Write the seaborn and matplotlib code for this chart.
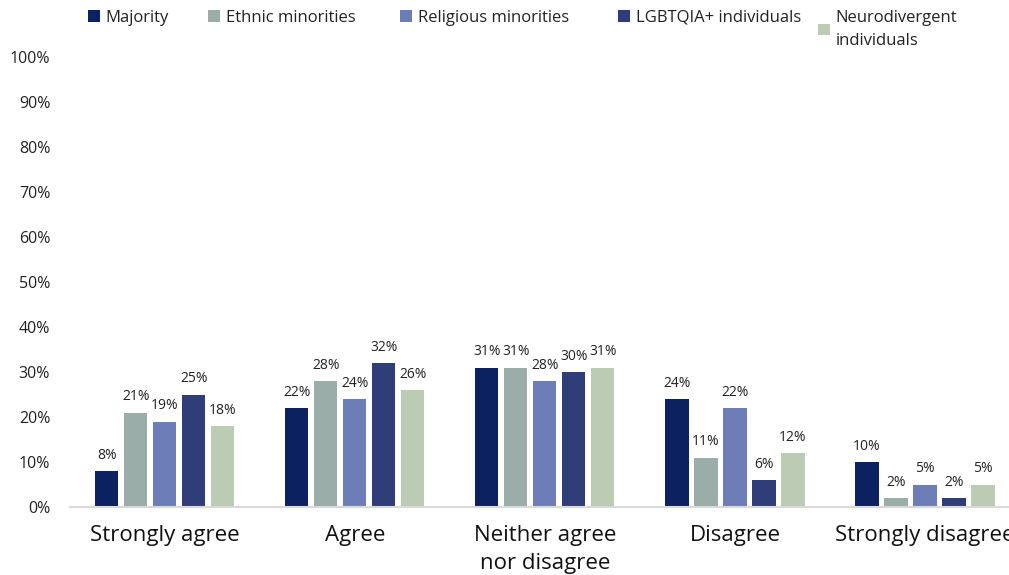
import pandas as pd
import seaborn as sns
import matplotlib.pyplot as plt
from matplotlib.ticker import FuncFormatter

# 数据
categories = ['Strongly agree', 'Agree', 'Neither agree\nnor disagree', 'Disagree', 'Strongly disagree']
groups = ['Majority', 'Ethnic minorities', 'Religious minorities', 'LGBTQIA+ individuals', 'Neurodivergent\nindividuals']
majority = [8, 22, 31, 24, 10]
ethnic = [21, 28, 31, 11, 2]
religious = [19, 24, 28, 22, 5]
lgbtqia = [25, 32, 30, 6, 2]
neuro = [18, 26, 31, 12, 5]
colors = ['#0b2160', '#9aada9', '#6d7db8', '#2f3d78', '#bccbb4']

rows = []
for g, vals in zip(groups, [majority, ethnic, religious, lgbtqia, neuro]):
    for c, v in zip(categories, vals):
        rows.append({'category': c, 'group': g, 'value': v})
df = pd.DataFrame(rows)

sns.set_style('white')
plt.rcParams['font.family'] = ['Open Sans', 'DejaVu Sans']

fig = plt.figure(figsize=(10.09, 5.75), dpi=100)
ax = fig.add_axes([0.069, 0.118, 0.942, 0.783])

sns.barplot(data=df, x='category', y='value', hue='group', order=categories,
            hue_order=groups, palette=colors, saturation=1, width=0.763, gap=0.2,
            linewidth=0, ax=ax, legend=True)

for cont in ax.containers:
    ax.bar_label(cont, fmt='%.0f%%', padding=6, fontsize=10, color='#222222')

ax.set_ylim(0, 100)
ax.set_yticks(range(0, 101, 10))
ax.yaxis.set_major_formatter(FuncFormatter(lambda v, p: f'{int(v)}%'))
ax.set_xlim(-0.5, 4.5)
ax.set_xlabel('')
ax.set_ylabel('')
ax.tick_params(axis='y', labelsize=11.5, length=0, pad=14, colors='#222222')
ax.tick_params(axis='x', labelsize=16, length=0, pad=13, colors='#111111')
for t in ax.get_xticklabels():
    t.set_linespacing(1.4)
for s in ['top', 'right', 'left']:
    ax.spines[s].set_visible(False)
ax.spines['bottom'].set_color('#d9d9d9')
ax.spines['bottom'].set_linewidth(1.5)

# 图例：每项单独放，位置对齐原图
handles, labels = ax.get_legend_handles_labels()
ax.get_legend().remove()
legend_x = [88, 208, 400, 618, 818]
for h, l, x in zip(handles, labels, legend_x):
    leg = fig.legend([h], [l], loc='upper left', bbox_to_anchor=(x / 1009, 1 - 10 / 575),
                     frameon=False, fontsize=12, handlelength=0.7, handleheight=0.7,
                     handletextpad=0.35, borderpad=0, borderaxespad=0, labelspacing=0)
    for t in leg.get_texts():
        t.set_linespacing(1.55)
        t.set_color('#222222')

fig.savefig('out.png', dpi=100)
